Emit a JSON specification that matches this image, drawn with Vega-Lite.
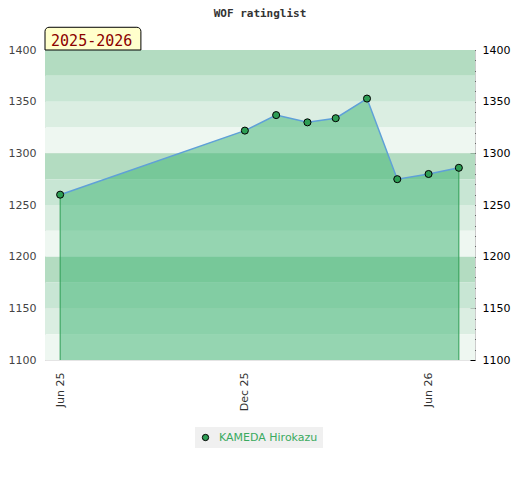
{
  "$schema": "https://vega.github.io/schema/vega-lite/v6.json",
  "description": "WOF rating list history for one player, monthly lists 2025-2026.",
  "width": 430,
  "height": 310,
  "autosize": {"type": "none"},
  "padding": {"left": 45, "top": 50, "right": 45, "bottom": 120},
  "title": {
    "text": "WOF ratinglist",
    "font": "DejaVu Sans Mono",
    "fontSize": 11,
    "fontWeight": "bold",
    "color": "#333333",
    "anchor": "middle",
    "frame": "group",
    "offset": 8
  },
  "config": {
    "font": "DejaVu Sans",
    "view": {"stroke": "#cccccc", "strokeWidth": 1}
  },
  "datasets": {
    "bands": [
      {"lo": 1375, "hi": 1400, "shade": "s1"},
      {"lo": 1350, "hi": 1375, "shade": "s2"},
      {"lo": 1325, "hi": 1350, "shade": "s3"},
      {"lo": 1300, "hi": 1325, "shade": "s4"},
      {"lo": 1275, "hi": 1300, "shade": "s1"},
      {"lo": 1250, "hi": 1275, "shade": "s2"},
      {"lo": 1225, "hi": 1250, "shade": "s3"},
      {"lo": 1200, "hi": 1225, "shade": "s4"},
      {"lo": 1175, "hi": 1200, "shade": "s1"},
      {"lo": 1150, "hi": 1175, "shade": "s2"},
      {"lo": 1125, "hi": 1150, "shade": "s3"},
      {"lo": 1100, "hi": 1125, "shade": "s4"}
    ],
    "ratings": [
      {"date": "2025-06-01", "rating": 1260, "player": "KAMEDA Hirokazu"},
      {"date": "2025-12-01", "rating": 1322, "player": "KAMEDA Hirokazu"},
      {"date": "2026-01-01", "rating": 1337, "player": "KAMEDA Hirokazu"},
      {"date": "2026-02-01", "rating": 1330, "player": "KAMEDA Hirokazu"},
      {"date": "2026-03-01", "rating": 1334, "player": "KAMEDA Hirokazu"},
      {"date": "2026-04-01", "rating": 1353, "player": "KAMEDA Hirokazu"},
      {"date": "2026-05-01", "rating": 1275, "player": "KAMEDA Hirokazu"},
      {"date": "2026-06-01", "rating": 1280, "player": "KAMEDA Hirokazu"},
      {"date": "2026-07-01", "rating": 1286, "player": "KAMEDA Hirokazu"}
    ]
  },
  "layer": [
    {
      "data": {"name": "bands"},
      "mark": {"type": "rect"},
      "encoding": {
        "y": {
          "field": "lo",
          "type": "quantitative",
          "scale": {"domain": [1100, 1400], "zero": false, "nice": false},
          "axis": {
            "orient": "left",
            "title": null,
            "values": [1100, 1150, 1200, 1250, 1300, 1350, 1400],
            "format": "d",
            "ticks": false,
            "domain": false,
            "grid": true,
            "gridColor": "#e4e4e4",
            "labelColor": "#444444",
            "labelFontSize": 11,
            "labelPadding": 9,
            "labelFlush": false
          }
        },
        "y2": {"field": "hi"},
        "color": {
          "field": "shade",
          "type": "nominal",
          "scale": {
            "domain": ["s1", "s2", "s3", "s4"],
            "range": ["#b3dcc1", "#c8e6d4", "#dbeee2", "#eef7f1"]
          },
          "legend": null
        }
      }
    },
    {
      "data": {"name": "ratings"},
      "mark": {"type": "area", "color": "#3cb371", "opacity": 0.5},
      "encoding": {
        "x": {
          "field": "date",
          "type": "temporal",
          "scale": {
            "type": "utc",
            "domain": [
              {"year": 2025, "month": "may", "date": 17, "utc": true},
              {"year": 2026, "month": "jul", "date": 17, "utc": true}
            ]
          },
          "axis": {
            "title": null,
            "values": [
              {"year": 2025, "month": "jun", "date": 1, "utc": true},
              {"year": 2025, "month": "dec", "date": 1, "utc": true},
              {"year": 2026, "month": "jun", "date": 1, "utc": true}
            ],
            "format": "%b %y",
            "labelAngle": -90,
            "ticks": false,
            "domain": false,
            "grid": false,
            "labelColor": "#333333",
            "labelFontSize": 11,
            "labelPadding": 12,
            "labelFlush": false
          }
        },
        "y": {"field": "rating", "type": "quantitative", "axis": null},
        "y2": {"datum": 1100}
      }
    },
    {
      "data": {"name": "ratings"},
      "transform": [
        {
          "filter": {
            "field": "date",
            "oneOf": [
              {"year": 2025, "month": "jun", "date": 1, "utc": true},
              {"year": 2026, "month": "jul", "date": 1, "utc": true}
            ]
          }
        }
      ],
      "mark": {"type": "rule", "color": "#2e9e55", "strokeWidth": 1},
      "encoding": {
        "x": {"field": "date", "type": "temporal"},
        "y": {"field": "rating", "type": "quantitative", "axis": null},
        "y2": {"datum": 1100}
      }
    },
    {
      "data": {"name": "ratings"},
      "mark": {"type": "line", "color": "#5fa0d8", "strokeWidth": 1.5},
      "encoding": {
        "x": {"field": "date", "type": "temporal"},
        "y": {"field": "rating", "type": "quantitative", "axis": null}
      }
    },
    {
      "data": {"name": "ratings"},
      "mark": {
        "type": "point",
        "shape": "circle",
        "size": 50,
        "opacity": 1,
        "fillOpacity": 1,
        "stroke": "#000000",
        "strokeWidth": 1
      },
      "encoding": {
        "x": {"field": "date", "type": "temporal"},
        "y": {
          "field": "rating",
          "type": "quantitative",
          "axis": {
            "orient": "right",
            "title": null,
            "values": [1100, 1110, 1120, 1130, 1140, 1150, 1160, 1170, 1180, 1190, 1200, 1210, 1220, 1230, 1240, 1250, 1260, 1270, 1280, 1290, 1300, 1310, 1320, 1330, 1340, 1350, 1360, 1370, 1380, 1390, 1400],
            "format": "d",
            "labelExpr": "datum.value % 50 === 0 ? datum.label : ''",
            "labelOverlap": false,
            "labelFlush": false,
            "labelBound": false,
            "labelColor": "#000000",
            "labelFontSize": 11,
            "labelPadding": 12,
            "tickColor": "#000000",
            "tickSize": {"condition": {"test": "datum.value % 50 === 0", "value": -5}, "value": -2.5},
            "domain": false,
            "grid": false
          }
        },
        "fill": {
          "field": "player",
          "type": "nominal",
          "scale": {"range": ["#2e9e55"]},
          "legend": {
            "title": null,
            "orient": "none",
            "legendX": 150,
            "legendY": 377,
            "fillColor": "#f0f0f0",
            "padding": 5,
            "symbolType": "circle",
            "symbolSize": 40,
            "symbolStrokeColor": "#000000",
            "symbolStrokeWidth": 1,
            "labelColor": "#3aaa5f",
            "labelFontSize": 11,
            "labelOffset": 8
          }
        }
      }
    },
    {
      "data": {"values": [{"label": "2025-2026"}]},
      "mark": {
        "type": "rect",
        "fill": "#ffffcc",
        "stroke": "#000000",
        "strokeWidth": 1,
        "cornerRadiusTopLeft": 4,
        "cornerRadiusTopRight": 4,
        "clip": false
      },
      "encoding": {
        "x": {"datum": {"year": 2025, "month": "may", "date": 17, "utc": true}, "type": "temporal"},
        "x2": {"datum": {"year": 2025, "month": "aug", "date": 20, "utc": true}},
        "y": {"datum": 1422, "type": "quantitative", "axis": null},
        "y2": {"datum": 1400}
      }
    },
    {
      "data": {"values": [{"label": "2025-2026"}]},
      "mark": {
        "type": "text",
        "font": "DejaVu Sans Mono",
        "fontSize": 15,
        "color": "#8b0000",
        "align": "left",
        "baseline": "alphabetic",
        "clip": false
      },
      "encoding": {
        "x": {"datum": {"year": 2025, "month": "may", "date": 23, "utc": true}, "type": "temporal"},
        "y": {"datum": 1404, "type": "quantitative", "axis": null},
        "text": {"field": "label"}
      }
    }
  ],
  "resolve": {"axis": {"y": "independent"}}
}
